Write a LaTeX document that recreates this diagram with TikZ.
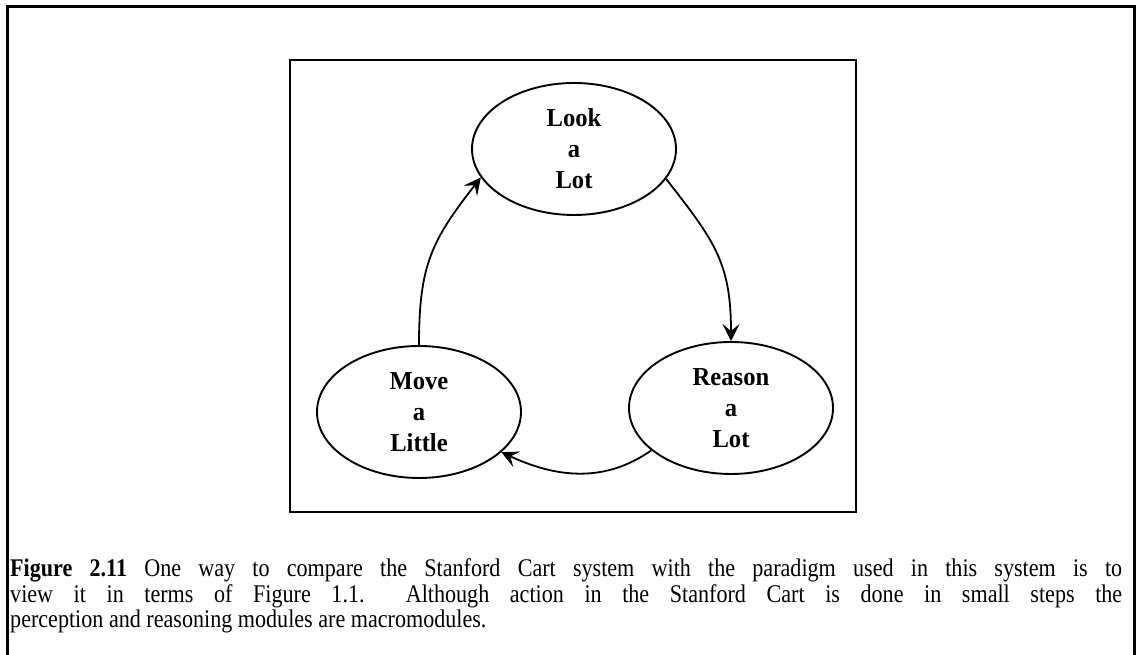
\documentclass[tikz,border=0pt]{standalone}
\usepackage{fontspec}
\setmainfont{Liberation Serif}
\newfontfamily\capfont{Liberation Serif}[FakeStretch=0.87]
\newfontfamily\phasefont{Liberation Serif}[FakeStretch=0.95]
\usetikzlibrary{shapes.geometric,arrows.meta}
\begin{document}
\begin{tikzpicture}[x=1bp,y=1bp,
  frame/.style={line width=3bp},
  panel/.style={line width=2.2bp},
  phase/.style={draw, ellipse, line width=1.9bp, minimum width=204bp,
    minimum height=132bp, inner sep=0pt, align=center,
    font=\phasefont\bfseries\fontsize{26}{31}\selectfont},
  flow/.style={line width=1.8bp,
    -{Stealth[length=17bp,width=17bp,inset=7bp]}}]
\useasboundingbox (0,0) rectangle (1136,655);
% page frame, open at the bottom
\draw[frame] (7,0) -- (7,648) -- (1134,648) -- (1134,0);
% figure panel
\draw[panel] (290,143) rectangle (856,595);
% the three phases of the cycle
\node[phase] (look)   at (574,506) {Look\\a\\Lot};
\node[phase] (move)   at (419,243) {Move\\a\\Little};
\node[phase] (reason) at (731,247) {Reason\\a\\Lot};
% cycle arrows
\draw[flow] (look.-18) to[out=-52,in=90,looseness=1.15] (reason.north);
\draw[flow] (reason.208) to[out=215,in=-25] (move.-26);
\draw[flow] (move.north) to[out=90,in=232,looseness=1.15] (look.197);
% caption
\node[anchor=base west, inner sep=0pt] (caption) at (10,78)
  {\parbox[t]{1112bp}{\capfont\fontsize{25.5}{25.5}\selectfont
   \textbf{Figure 2.11} One way to compare the Stanford Cart system with the paradigm used in this system is to\linebreak
   view it in terms of Figure 1.1.\ \ Although action in the Stanford Cart is done in small steps the\linebreak
   perception and reasoning modules are macromodules.}};
\end{tikzpicture}
\end{document}
